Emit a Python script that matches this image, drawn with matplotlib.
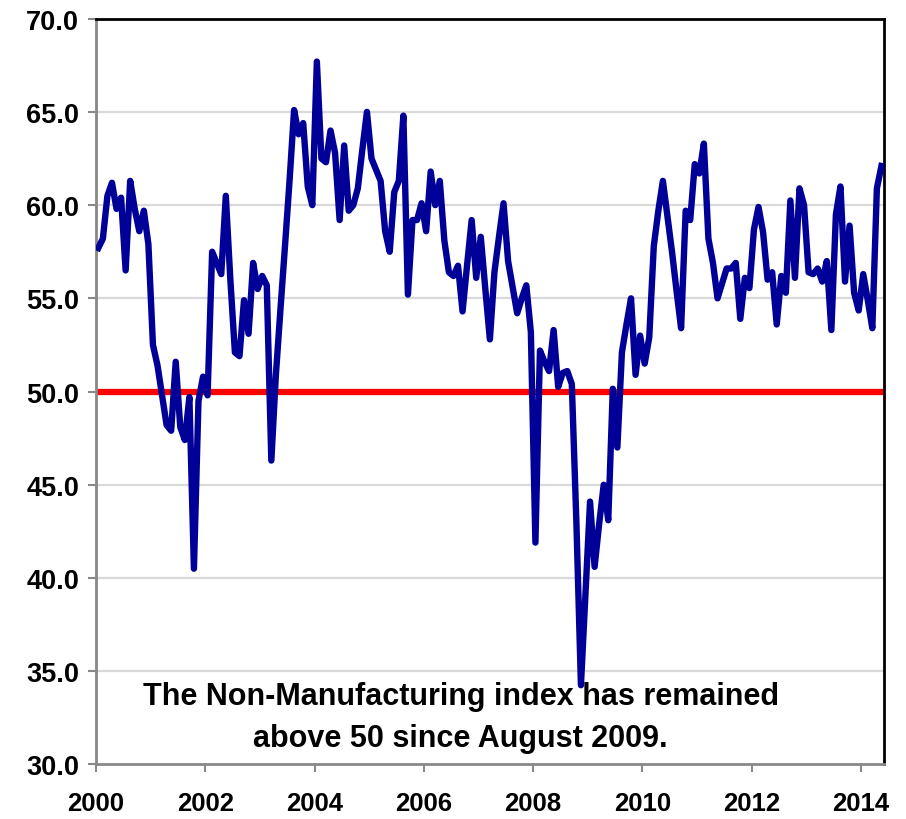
import numpy as np
import matplotlib
matplotlib.use("Agg")
import matplotlib.pyplot as plt

plt.rcParams["font.family"] = ["Liberation Sans", "DejaVu Sans"]

# monthly index, Jan 2000 .. May 2014
start_year = 2000
nmi = [57.7, 58.2, 60.5, 61.2, 59.8, 60.4, 56.5, 61.3, 59.8, 58.6, 59.7, 57.9,
       52.5, 51.4, 49.8, 48.2, 47.9, 51.6, 48.1, 47.4, 49.7, 40.5, 49.5, 50.8,
       49.8, 57.5, 56.9, 56.3, 60.5, 56.0, 52.1, 51.9, 54.9, 53.1, 56.9, 55.5,
       56.2, 55.7, 46.3, 50.9, 54.4, 57.8, 61.3, 65.1, 63.8, 64.4, 61.0, 60.0,
       67.7, 62.5, 62.3, 64.0, 62.8, 59.2, 63.2, 59.7, 60.0, 60.9, 63.0, 65.0,
       62.5, 61.9, 61.3, 58.6, 57.5, 60.7, 61.3, 64.8, 55.2, 59.2, 59.2, 60.1,
       58.6, 61.8, 60.0, 61.3, 58.1, 56.4, 56.2, 56.75, 54.3, 56.8, 59.2, 56.1,
       58.3, 55.5, 52.8, 56.4, 58.3, 60.1, 57.0, 55.6, 54.2, 55.0, 55.7, 53.2,
       41.9, 52.2, 51.6, 51.1, 53.3, 50.25, 51.0, 51.1, 50.4, 43.0, 34.25, 39.2,
       44.1, 40.6, 42.9, 45.0, 43.1, 50.15, 47.0, 52.1, 53.6, 55.0, 50.9, 53.0,
       51.5, 52.9, 57.8, 59.7, 61.3, 59.4, 57.5, 55.4, 53.4, 59.7, 59.2, 62.2,
       61.7, 63.3, 58.2, 56.9, 55.0, 55.8, 56.6, 56.6, 56.9, 53.9, 56.1, 55.55,
       58.7, 59.9, 58.55, 56.0, 56.4, 53.6, 56.2, 55.3, 60.25, 56.1, 60.9, 60.0,
       56.4, 56.3, 56.6, 55.9, 57.0, 53.3, 59.5, 61.0, 55.9, 58.9, 55.3, 54.35,
       56.3, 54.9, 53.4, 60.9, 62.1]
tick_years = [2000, 2002, 2004, 2006, 2008, 2010, 2012, 2014]
y_ticks = [30, 35, 40, 45, 50, 55, 60, 65, 70]
threshold = 50
note = "The Non-Manufacturing index has remained\nabove 50 since August 2009."

n = len(nmi)
x = np.arange(n) + 0.5  # points sit in the middle of each month slot

fig = plt.figure(figsize=(9.06, 8.2), dpi=100)
ax = fig.add_axes([0.106, 0.0665, 0.8694, 0.9095])

for v in y_ticks[1:-1]:
    ax.axhline(v, color="#d9d9d9", linewidth=1.6, zorder=1)

ax.axhline(threshold, color="#ff0000", linewidth=4.5, zorder=2)
ax.plot(x, nmi, color="#000099", linewidth=4.6, solid_joinstyle="round", zorder=3)

ax.set_xlim(0, n)
ax.set_ylim(30, 70)
ax.set_xticks([(y - start_year) * 12 for y in tick_years])
ax.set_xticklabels([str(y) for y in tick_years])
ax.set_yticks(y_ticks)
ax.set_yticklabels(["%.1f" % v for v in y_ticks])

for lab in ax.get_xticklabels():
    lab.set_fontsize(18.5)
    lab.set_fontweight("bold")
for lab in ax.get_yticklabels():
    lab.set_fontsize(19.5)
    lab.set_fontweight("bold")

ax.tick_params(axis="x", direction="out", length=6, width=1.5, color="#888888", pad=13)
ax.tick_params(axis="y", direction="out", length=6, width=1.5, color="#888888", pad=6)

ax.spines["left"].set_color("#888888")
ax.spines["bottom"].set_color("#888888")
ax.spines["left"].set_linewidth(2)
ax.spines["bottom"].set_linewidth(2)
ax.spines["top"].set_color("black")
ax.spines["right"].set_color("black")
ax.spines["top"].set_linewidth(2)
ax.spines["right"].set_linewidth(2)

ax.text(0.463, 0.0637, note, transform=ax.transAxes, ha="center", va="center",
        fontsize=22, fontweight="bold", linespacing=1.55, zorder=4)

plt.savefig("out.png", dpi=100)
